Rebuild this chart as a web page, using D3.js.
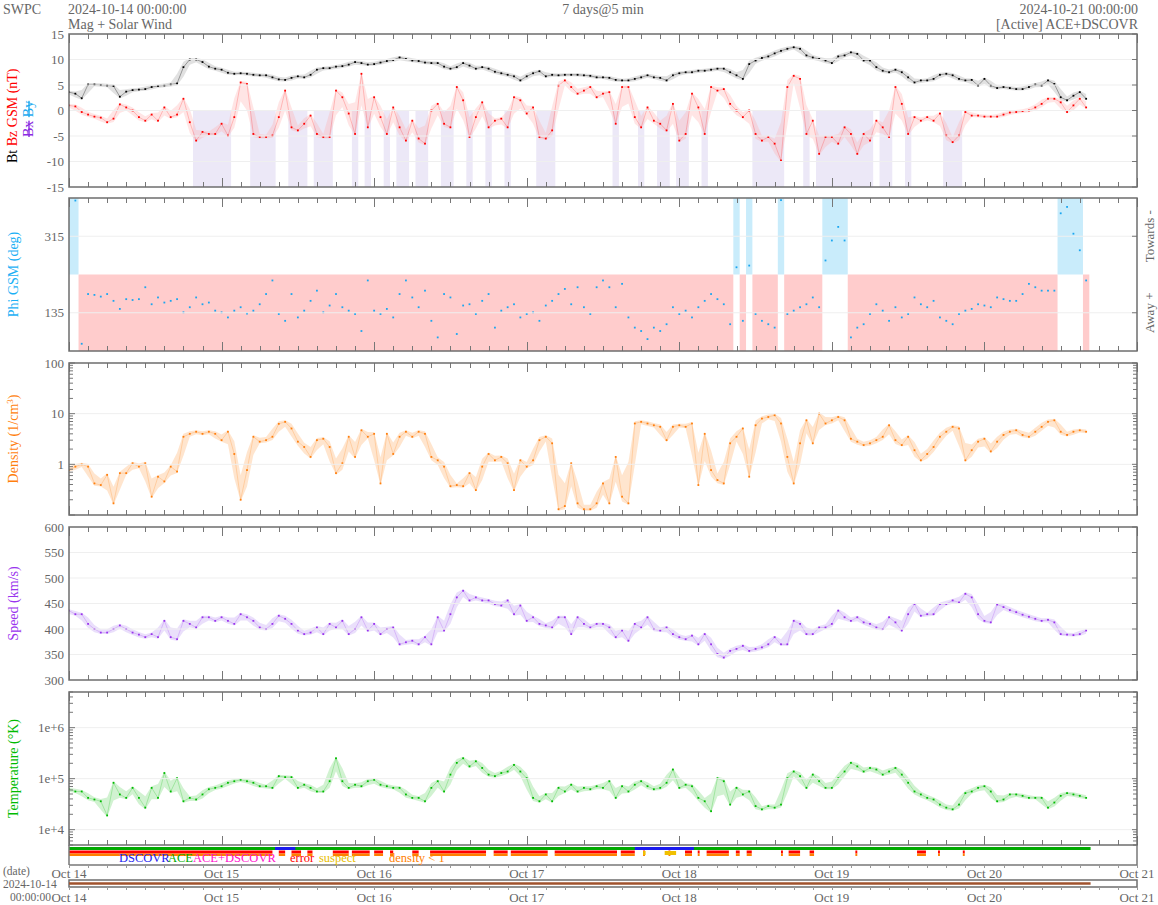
<!DOCTYPE html>
<html><head><meta charset="utf-8">
<script src="https://cdn.jsdelivr.net/npm/d3@7"></script>
<style>
body{margin:0;background:#fff;}
svg text{font-family:"Liberation Serif","Times New Roman",serif;}
</style></head><body>
<svg id="c" width="1158" height="905"></svg>
<script>
// ---------- DATA (hourly samples, Oct 14 00:00 UTC onward) ----------
const startTime = "2024-10-14T00:00:00Z";
const endTime   = "2024-10-21T00:00:00Z";
const dataEndHour = 160.7;

const bt = [3.6,3.3,2.4,5.1,5.1,5.0,4.9,4.8,2.7,3.7,
 4.0,4.1,4.2,4.6,4.8,4.9,5.1,5.3,8.5,10.0,
 10.0,9.5,8.6,8.2,8.0,7.4,7.2,7.3,7.2,7.0,
 6.9,6.9,6.5,6.1,6.0,6.4,6.7,6.5,7.0,8.0,
 8.3,8.3,8.6,8.7,9.0,9.5,9.3,9.0,9.1,9.4,
 9.7,9.9,10.4,10.1,9.8,9.7,9.4,9.3,9.3,8.6,
 8.2,8.5,9.3,8.8,8.2,8.5,8.2,7.6,7.3,7.0,
 6.7,5.9,6.7,7.3,7.7,6.7,7.0,6.9,7.0,7.0,
 7.0,6.9,6.8,6.5,6.5,6.4,6.0,5.9,5.9,6.2,
 6.5,6.9,6.5,6.4,5.9,6.9,7.3,7.5,7.5,7.8,
 7.8,8.0,8.2,8.2,7.5,6.9,6.2,9.1,9.8,10.3,
 10.6,11.2,11.7,12.1,12.4,12.1,10.8,10.4,10.1,9.8,
 9.3,10.6,10.8,11.4,11.1,9.8,9.8,8.5,7.8,7.5,
 8.0,7.5,6.5,5.5,5.9,5.9,6.2,7.0,7.2,6.9,
 6.2,5.9,6.0,4.9,6.2,4.9,4.4,4.6,4.4,4.2,
 4.2,4.6,5.1,4.9,5.9,5.2,2.6,2.0,2.9,3.6,
 2.3];

const bz = [1.0,0.8,-0.3,-0.8,-1.2,-1.4,-2.3,-1.6,1.2,0.6,
 0,-1.3,-2.0,-0.8,-2.0,0.6,-1.3,-0.8,2.3,-2.3,
 -5.9,-4.2,-4.6,-4.6,-2.6,-4.9,-1.3,5.5,5.2,-4.6,
 -5.2,-5.2,-4.9,-1.3,3.9,-3.3,-3.9,-2.6,-1.0,-4.6,
 -5.2,-5.2,3.9,2.6,-0.6,-4.6,7.2,-3.3,2.6,-1.3,
 -4.6,0.6,-3.3,-5.9,-2.0,-5.5,-6.5,0,1.3,-2.6,
 -3.3,4.6,2.0,-5.2,-1.3,1.6,-3.3,-2.0,-1.6,-3.3,
 2.6,2.0,-0.6,0.6,-5.2,-5.5,-3.9,4.9,5.9,4.6,
 3.3,3.9,4.6,2.6,3.3,3.6,-2.6,4.6,4.6,-1.3,
 -3.3,0.6,-2.0,-2.6,-3.9,1.3,-5.9,-4.6,3.3,0.6,
 -4.6,4.6,3.9,4.2,1.3,0,-1.3,0,-4.6,-5.9,
 -5.2,-6.5,-9.8,4.6,6.8,6.2,-4.6,-2.0,-8.5,-5.2,
 -5.2,-6.5,-3.3,-4.6,-8.5,-4.6,-5.9,-2.0,-3.3,-5.2,
 4.6,1.3,-4.6,-1.3,-2.0,-1.3,-2.0,-0.6,-4.9,-6.2,
 -4.9,-0.3,-1.0,-1.0,-1.2,-1.2,-1.2,-0.8,-0.4,-0.3,
 -0.1,0,0.6,1.3,2.3,2.3,1.6,-0.3,1.0,2.3,
 0.6];

const phi = [400,399,62,179,177,173,179,163,144,167,
 165,167,195,155,171,159,163,167,136,148,
 171,155,159,140,136,124,140,148,133,140,
 155,179,211,132,116,179,124,140,163,187,
 136,152,179,148,140,132,92,211,140,132,
 144,124,179,211,171,148,187,116,77,179,
 171,85,152,155,132,163,179,100,140,148,
 155,124,132,136,116,152,163,179,191,155,
 195,148,132,195,211,195,148,203,124,100,
 92,73,100,92,108,148,132,140,124,148,
 163,179,167,155,108,242,116,246,132,116,
 108,100,400,132,140,148,155,171,148,258,
 305,337,305,77,100,108,132,155,140,116,
 148,124,132,171,155,148,163,124,116,108,
 132,140,144,155,152,148,171,167,163,163,
 179,203,195,187,187,187,369,384,321,282,
 211];

const density = [0.77,0.9,1.0,0.9,0.42,0.39,0.62,0.17,0.67,0.67,
 1.05,0.9,1.05,0.23,0.57,0.46,0.9,0.72,3.5,4.0,
 4.4,4.0,4.4,4.0,3.0,4.4,1.6,0.2,0.77,3.5,
 2.8,3.0,3.5,6.3,6.9,5.1,2.8,2.2,1.4,3.0,
 3.2,2.2,0.67,1.05,3.5,1.4,4.7,3.5,4.0,0.42,
 4.0,1.6,3.5,4.4,3.5,4.4,4.0,1.4,1.2,0.9,
 0.37,0.39,0.37,0.67,0.31,0.9,1.6,1.2,1.4,1.05,
 0.31,1.2,0.9,1.2,3.0,3.5,2.6,0.13,0.15,1.05,
 0.17,0.13,0.13,0.17,0.42,0.17,1.4,0.23,0.17,6.4,
 6.9,6.4,5.9,5.5,3.0,5.5,5.9,5.5,6.4,0.39,
 4.0,0.77,0.49,0.42,2.6,3.5,5.1,0.57,5.9,8.0,
 8.6,9.3,6.4,1.4,0.42,2.6,7.4,2.6,10.0,6.4,
 7.4,8.6,7.4,3.2,2.8,2.4,2.6,3.0,3.5,5.9,
 3.0,2.4,3.5,1.9,1.2,1.6,2.2,3.5,4.4,5.5,
 5.1,1.2,1.9,2.8,3.2,1.8,2.8,3.8,4.4,4.7,
 3.8,3.5,4.4,5.5,6.9,7.4,4.4,3.8,4.4,4.7,
 4.4];

const speed = [436,429,429,410,400,393,393,400,407,400,
 393,389,384,390,384,416,384,380,416,410,
 403,423,423,416,423,416,410,429,423,416,
 403,400,410,426,420,410,397,390,393,403,
 390,410,403,416,390,400,423,397,410,390,
 400,403,370,374,377,370,384,370,423,397,
 429,462,475,456,462,456,456,449,446,456,
 429,446,416,423,410,407,403,423,423,390,
 423,410,403,410,410,403,384,397,377,410,
 403,423,400,397,403,390,384,380,387,370,
 390,370,351,344,357,361,367,357,361,364,
 370,384,370,370,416,410,390,390,403,403,
 410,436,423,416,423,413,410,403,400,423,
 413,397,429,449,426,429,429,449,449,456,
 452,469,462,429,416,413,448,443,437,433,
 428,424,420,416,418,413,390,389,388,390,
 397];

const temperature = [6.2e4,5.6e4,5.6e4,4.2e4,3.9e4,3.6e4,1.9e4,8.3e4,4.9e4,4.2e4,
 6.6e4,4.2e4,2.7e4,6.6e4,4.2e4,1.29e5,5.6e4,1.02e5,3.6e4,4.2e4,
 3.9e4,4.9e4,6.2e4,6.6e4,7.1e4,8.3e4,8.9e4,9.5e4,8.9e4,8.3e4,
 7.1e4,7.1e4,6.6e4,1.12e5,1.07e5,1.07e5,6.6e4,7.6e4,6.6e4,5.6e4,
 5.6e4,8.9e4,2.51e5,8.9e4,6.6e4,7.6e4,7.1e4,8.9e4,9.5e4,7.6e4,
 7.1e4,6.6e4,6.6e4,4.9e4,4.2e4,4.2e4,3.6e4,6.6e4,8.9e4,5.6e4,
 1.2e5,2.04e5,2.51e5,1.74e5,2.19e5,1.62e5,1.2e5,1.12e5,1.29e5,1.38e5,
 1.86e5,1.38e5,1.02e5,4.2e4,3.6e4,4.9e4,3.6e4,6.6e4,5.6e4,7.6e4,
 5.6e4,6.6e4,6.2e4,7.1e4,6.6e4,8.9e4,4.2e4,7.1e4,5.6e4,7.6e4,
 8.9e4,7.1e4,6.2e4,6.6e4,8.3e4,1.51e5,6.6e4,7.6e4,7.1e4,4.2e4,
 3.6e4,2.3e4,1.02e5,8.9e4,3.1e4,6.6e4,4.9e4,5.6e4,2.9e4,2.5e4,
 2.9e4,2.7e4,3.1e4,1.02e5,1.38e5,1.12e5,6.6e4,1.2e5,8.9e4,6.6e4,
 6.6e4,1.02e5,1.38e5,2.04e5,1.74e5,1.38e5,1.62e5,1.51e5,1.2e5,1.38e5,
 1.62e5,1.2e5,8.3e4,5.6e4,4.9e4,4.2e4,3.9e4,3.1e4,2.7e4,2.5e4,
 3.1e4,5.2e4,5.6e4,6.6e4,7.1e4,5.6e4,3.6e4,3.9e4,4.9e4,4.9e4,
 4.6e4,4.2e4,4.2e4,4.2e4,2.7e4,3.4e4,4.6e4,5.2e4,4.9e4,4.6e4,
 4.2e4];

// spacecraft source segments (hours from start)
const dscovrStart = [32.4, 89.0];
const dscovrEnd   = [35.6, 98.3];
// quality flag intervals (hours)
const flagStart = [0,33,35,37.5,41.5,44.5,48,50.5,54,56.8,66.8,69.5,76.4,86.8,90.3,94.3,96.9,98.9,100.3,104.9,106.6,112,113.2,116.5,123.7,133.4,136.7,140.6];
const flagEnd   = [32,34,36.5,38.3,44,47.3,49.4,51,55,65.6,69,75.3,86.2,89,90.6,94.6,98,99.2,103.8,105.5,107.4,112.3,115,117.2,124,134.8,137,140.9];
const suspectStart = [90.3, 93.7];
const suspectEnd   = [90.7, 95.5];

// tick values
const bTicks = [-15,-10,-5,0,5,10,15];
const phiTicks = [135,315];
const denTicks = [1,10,100];
const spdTicks = [300,350,400,450,500,550,600];
const tmpTicks = [1e4,1e5,1e6];
const tmpTickLabels = ["1e+4","1e+5","1e+6"];

// ---------- DRAWING ----------
const svg = d3.select("#c");
const GREY = "#666";
const t0 = Date.parse(startTime);
const tAt = h => new Date(t0 + h*3600000);
const L = 69, R = 1137;
const x = d3.scaleUtc().domain([new Date(startTime), new Date(endTime)]).range([L, R]);
const hrs = d3.range(bt.length);

const P = {
  mag:{top:34,bottom:187}, phi:{top:198,bottom:351}, den:{top:363,bottom:515},
  spd:{top:527,bottom:680}, tmp:{top:692,bottom:845}, src:{top:845,bottom:865},
  date:{top:880,bottom:887}
};
const yB = d3.scaleLinear().domain([-15,15]).range([P.mag.bottom,P.mag.top]);
const yPhi = d3.scaleLinear().domain([45,405]).range([P.phi.bottom,P.phi.top]);
const yDen = d3.scaleLog().domain([0.1,100]).range([P.den.bottom,P.den.top]);
const ySpd = d3.scaleLinear().domain([300,600]).range([P.spd.bottom,P.spd.top]);
const yTmp = d3.scaleLog().domain([5e3,5e6]).range([P.tmp.bottom,P.tmp.top]);

const defs = svg.append("defs");
function clipFor(name, p){
  defs.append("clipPath").attr("id","clip-"+name).append("rect")
    .attr("x",L).attr("y",p.top).attr("width",R-L).attr("height",p.bottom-p.top);
  return svg.append("g").attr("clip-path",`url(#clip-${name})`);
}
// group consecutive hours satisfying a predicate into runs [h0,h1]
function runs(pred){
  const out=[]; let s=null;
  hrs.forEach(i=>{ if(pred(i)){ if(s===null) s=i; } else if(s!==null){ out.push([s,i-1]); s=null; } });
  if (s!==null) out.push([s,hrs.length-1]);
  return out;
}

function yAxis(p, scale, ticks, labels){
  ticks.forEach((v,i)=>{
    const yy = scale(v);
    if (yy > p.top+1 && yy < p.bottom-1)
      svg.append("line").attr("x1",L).attr("x2",R).attr("y1",yy).attr("y2",yy)
        .attr("stroke","#efefef").attr("stroke-width",1);
    svg.append("text").attr("x",64).attr("y",yy+4.5).attr("text-anchor","end")
      .attr("font-size",13).attr("fill",GREY).text(labels ? labels[i] : v);
    svg.append("line").attr("x1",R-5).attr("x2",R).attr("y1",yy).attr("y2",yy).attr("stroke","#777");
  });
}
function minorLog(p, scale){
  const [a,b] = scale.domain();
  for (let e = Math.floor(Math.log10(a)); e <= Math.ceil(Math.log10(b)); e++){
    for (let m=2;m<=9;m++){
      const v = m*Math.pow(10,e);
      if (v<a||v>b) continue;
      const yy = scale(v);
      [[L,L+4],[R-4,R]].forEach(([x1,x2])=>
        svg.append("line").attr("x1",x1).attr("x2",x2).attr("y1",yy).attr("y2",yy).attr("stroke","#777"));
    }
    const v = Math.pow(10,e);
    if (v>=a && v<=b){
      const yy=scale(v);
      svg.append("line").attr("x1",L).attr("x2",L+6).attr("y1",yy).attr("y2",yy).attr("stroke","#777");
    }
  }
}
const tTicks = x.ticks(d3.utcHour.every(3));
function timeTicks(p, inward){
  tTicks.forEach(t=>{
    const major = t.getUTCHours()===0;
    const len = major ? 9 : 5;
    const xx = Math.round(x(t))+0.5;
    if (inward){
      svg.append("line").attr("x1",xx).attr("x2",xx).attr("y1",p.top).attr("y2",p.top+len).attr("stroke","#777");
      svg.append("line").attr("x1",xx).attr("x2",xx).attr("y1",p.bottom).attr("y2",p.bottom-len).attr("stroke","#777");
    } else {
      svg.append("line").attr("x1",xx).attr("x2",xx).attr("y1",p.bottom).attr("y2",p.bottom+3).attr("stroke","#999");
    }
  });
}
function frame(p){
  svg.append("rect").attr("x",L).attr("y",p.top).attr("width",R-L).attr("height",p.bottom-p.top)
    .attr("fill","none").attr("stroke","#6e6e6e").attr("stroke-width",1.5);
}
function series(g, vals, y, color, bandColor, bandOpacity, lineOpacity, logScale){
  const f = logScale ? Math.log10 : (v=>v);
  const inv = logScale ? (v=>Math.pow(10,v)) : (v=>v);
  const n = vals.length;
  const mid = (a,b)=>inv((f(a)+f(b))/2);
  const lo = vals.map((v,i)=>Math.min(v, mid(v,vals[Math.max(0,i-1)]), mid(v,vals[Math.min(n-1,i+1)])));
  const hi = vals.map((v,i)=>Math.max(v, mid(v,vals[Math.max(0,i-1)]), mid(v,vals[Math.min(n-1,i+1)])));
  g.append("path").datum(hrs)
    .attr("d", d3.area().x(i=>x(tAt(i))).y0(i=>y(lo[i])+1.5).y1(i=>y(hi[i])-1.5))
    .attr("fill",bandColor).attr("opacity",bandOpacity);
  g.append("path").datum(hrs)
    .attr("d", d3.line().x(i=>x(tAt(i))).y(i=>y(vals[i])))
    .attr("fill","none").attr("stroke",color).attr("stroke-width",0.6).attr("opacity",lineOpacity);
  g.selectAll(null).data(hrs).enter().append("rect")
    .attr("x",i=>x(tAt(i))-0.9).attr("y",i=>y(vals[i])-0.9).attr("width",1.8).attr("height",1.8)
    .attr("fill",color);
}

// ---- header ----
const hdr = (txt,xx,yy,anchor)=>svg.append("text").attr("x",xx).attr("y",yy).attr("text-anchor",anchor||"start")
  .attr("font-size",14).attr("fill",GREY).text(txt);
hdr("SWPC",3,14);
hdr("2024-10-14 00:00:00",68,14);
hdr("Mag + Solar Wind",68,29);
hdr("7 days@5 min",(L+R)/2,14,"middle");
hdr("2024-10-21 00:00:00",1138,14,"end");
hdr("[Active] ACE+DSCOVR",1138,29,"end");

// ---- Panel 1: Bt / Bz ----
{
  const g = clipFor("mag",P.mag);
  runs(i=>bz[i] <= -2.5).forEach(([a,b])=>{
    const x0=x(tAt(a-0.5)), x1=x(tAt(b+0.5));
    g.append("rect").attr("x",x0).attr("width",x1-x0)
      .attr("y",yB(0)).attr("height",yB(-15)-yB(0)).attr("fill","#ece8f7");
  });
  yAxis(P.mag,yB,bTicks);
  g.append("line").attr("x1",L).attr("x2",R).attr("y1",yB(0)).attr("y2",yB(0)).attr("stroke","#555").attr("stroke-width",1);
  series(g, bt, yB, "#000", "#aaaaaa", 0.35, 0.55, false);
  series(g, bz, yB, "#ff0000", "#ffaaaa", 0.3, 0.35, false);
  timeTicks(P.mag,true); frame(P.mag);
  const t = svg.append("text").attr("transform","translate(17,163) rotate(-90)").attr("font-size",14);
  t.append("tspan").attr("fill","#000").text("Bt  ");
  t.append("tspan").attr("fill","#ff0000").text("Bz GSM (nT)");
  const t2 = svg.append("text").attr("transform","translate(33,137) rotate(-90)").attr("font-size",14);
  t2.append("tspan").attr("fill","#8a2be2").style("text-decoration","line-through").text("Bx");
  t2.append("tspan").text("  ");
  t2.append("tspan").attr("fill","#1eaaf0").style("text-decoration","line-through").text("By");
}

// ---- Panel 2: Phi ----
{
  const g = clipFor("phi",P.phi);
  const clampX = h => x(tAt(Math.max(0, Math.min(dataEndHour, h))));
  runs(i=>phi[i] >= 225).forEach(([a,b])=>{
    const x0=clampX(a-0.5), x1=clampX(b+0.5);
    g.append("rect").attr("x",x0).attr("width",x1-x0).attr("y",P.phi.top).attr("height",yPhi(225)-P.phi.top).attr("fill","#c9ecfb");
  });
  runs(i=>phi[i] < 225).forEach(([a,b])=>{
    const x0=clampX(a-0.5), x1=clampX(b+0.5);
    g.append("rect").attr("x",x0).attr("width",x1-x0).attr("y",yPhi(225)).attr("height",P.phi.bottom-yPhi(225)).attr("fill","#ffcccc");
  });
  yAxis(P.phi,yPhi,phiTicks);
  g.selectAll(null).data(hrs).enter().append("rect")
    .attr("x",i=>x(tAt(i))-0.9).attr("y",i=>yPhi(phi[i])-0.9).attr("width",1.8).attr("height",1.8).attr("fill","#1aa6f0");
  timeTicks(P.phi,true); frame(P.phi);
  svg.append("text").attr("transform",`translate(18,${(P.phi.top+P.phi.bottom)/2}) rotate(-90)`).attr("text-anchor","middle")
    .attr("font-size",14).attr("fill","#1ab0f5").text("Phi GSM (deg)");
  svg.append("text").attr("transform",`translate(1154,${yPhi(315)}) rotate(-90)`).attr("text-anchor","middle")
    .attr("font-size",13).attr("fill",GREY).text("Towards -");
  svg.append("text").attr("transform",`translate(1154,${yPhi(135)}) rotate(-90)`).attr("text-anchor","middle")
    .attr("font-size",13).attr("fill",GREY).text("Away +");
}

// ---- Panel 3: Density ----
{
  const g = clipFor("den",P.den);
  yAxis(P.den,yDen,denTicks); minorLog(P.den,yDen);
  series(g, density, yDen, "#ff7f0e", "#ffb574", 0.35, 0.4, true);
  timeTicks(P.den,true); frame(P.den);
  const t = svg.append("text").attr("transform",`translate(18,${(P.den.top+P.den.bottom)/2}) rotate(-90)`).attr("text-anchor","middle")
    .attr("font-size",14).attr("fill","#ff7f0e");
  t.append("tspan").text("Density (1/cm");
  t.append("tspan").attr("font-size",9).attr("dy",-5).text("3");
  t.append("tspan").attr("dy",5).text(")");
}

// ---- Panel 4: Speed ----
{
  const g = clipFor("spd",P.spd);
  yAxis(P.spd,ySpd,spdTicks);
  series(g, speed, ySpd, "#9933ee", "#c4a2f4", 0.35, 0.4, false);
  timeTicks(P.spd,true); frame(P.spd);
  svg.append("text").attr("transform",`translate(18,${(P.spd.top+P.spd.bottom)/2}) rotate(-90)`).attr("text-anchor","middle")
    .attr("font-size",14).attr("fill","#9933ee").text("Speed (km/s)");
}

// ---- Panel 5: Temperature ----
{
  const g = clipFor("tmp",P.tmp);
  yAxis(P.tmp,yTmp,tmpTicks,tmpTickLabels); minorLog(P.tmp,yTmp);
  series(g, temperature, yTmp, "#00bb00", "#7ad97a", 0.35, 0.4, true);
  timeTicks(P.tmp,true); frame(P.tmp);
  svg.append("text").attr("transform",`translate(18,${(P.tmp.top+P.tmp.bottom)/2}) rotate(-90)`).attr("text-anchor","middle")
    .attr("font-size",14).attr("fill","#00bb00").text("Temperature (°K)");
}

// ---- Panel 6: source / flags ----
{
  const p = P.src;
  svg.append("line").attr("x1",x(tAt(0))).attr("x2",x(tAt(dataEndHour))).attr("y1",848.5).attr("y2",848.5)
    .attr("stroke","#00aa00").attr("stroke-width",3);
  dscovrStart.forEach((s,i)=>svg.append("line").attr("x1",x(tAt(s))).attr("x2",x(tAt(dscovrEnd[i])))
    .attr("y1",848.5).attr("y2",848.5).attr("stroke","#1a1aee").attr("stroke-width",3));
  flagStart.forEach((s,i)=>{
    const x0=x(tAt(s)), x1=x(tAt(flagEnd[i]));
    svg.append("rect").attr("x",x0).attr("width",Math.max(1,x1-x0)).attr("y",850.5).attr("height",3).attr("fill","#ff0000");
    svg.append("rect").attr("x",x0).attr("width",Math.max(1,x1-x0)).attr("y",853.5).attr("height",2.5).attr("fill","#ff7f00");
  });
  suspectStart.forEach((s,i)=>{
    const x0=x(tAt(s)), x1=x(tAt(suspectEnd[i]));
    svg.append("rect").attr("x",x0).attr("width",Math.max(1,x1-x0)).attr("y",851).attr("height",4).attr("fill","#f0c000");
  });
  svg.append("line").attr("x1",L).attr("x2",R).attr("y1",p.bottom).attr("y2",p.bottom).attr("stroke","#777").attr("stroke-width",1.5);
  svg.append("line").attr("x1",L).attr("x2",L).attr("y1",p.top).attr("y2",p.bottom).attr("stroke","#777").attr("stroke-width",1.5);
  svg.append("line").attr("x1",R).attr("x2",R).attr("y1",p.top).attr("y2",p.bottom).attr("stroke","#777").attr("stroke-width",1.5);
  timeTicks(p,false);
  const leg = [["DSCOVR",119,"#2222ee"],["ACE",168,"#00aa00"],["ACE+DSCOVR",193,"#ff11cc"],
               ["error",290,"#ff0000"],["suspect",319,"#e8c000"],["density < 1",389,"#ff7f00"]];
  leg.forEach(([t,xx,c])=>svg.append("text").attr("x",xx).attr("y",862).attr("font-size",12.5).attr("fill",c).text(t));
}

// ---- date axes ----
const fmt = d3.utcFormat("%b %-d");
const days = x.ticks(d3.utcDay.every(1));
days.forEach(d=>{
  svg.append("text").attr("x",x(d)).attr("y",878).attr("text-anchor","middle").attr("font-size",13).attr("fill",GREY).text(fmt(d));
  svg.append("text").attr("x",x(d)).attr("y",902).attr("text-anchor","middle").attr("font-size",13).attr("fill",GREY).text(fmt(d));
});
{
  const p = P.date;
  frame(p);
  svg.append("line").attr("x1",x(tAt(0))).attr("x2",x(tAt(dataEndHour))).attr("y1",883.5).attr("y2",883.5)
    .attr("stroke","#a0522d").attr("stroke-width",2.5);
  timeTicks(p,false);
}
svg.append("text").attr("x",3).attr("y",875).attr("font-size",11.5).attr("fill",GREY).text("(date)");
svg.append("text").attr("x",3).attr("y",887.5).attr("font-size",11.5).attr("fill",GREY).text("2024-10-14");
svg.append("text").attr("x",51).attr("y",900.5).attr("text-anchor","end").attr("font-size",11.5).attr("fill",GREY).text("00:00:00");
</script>
</body></html>
